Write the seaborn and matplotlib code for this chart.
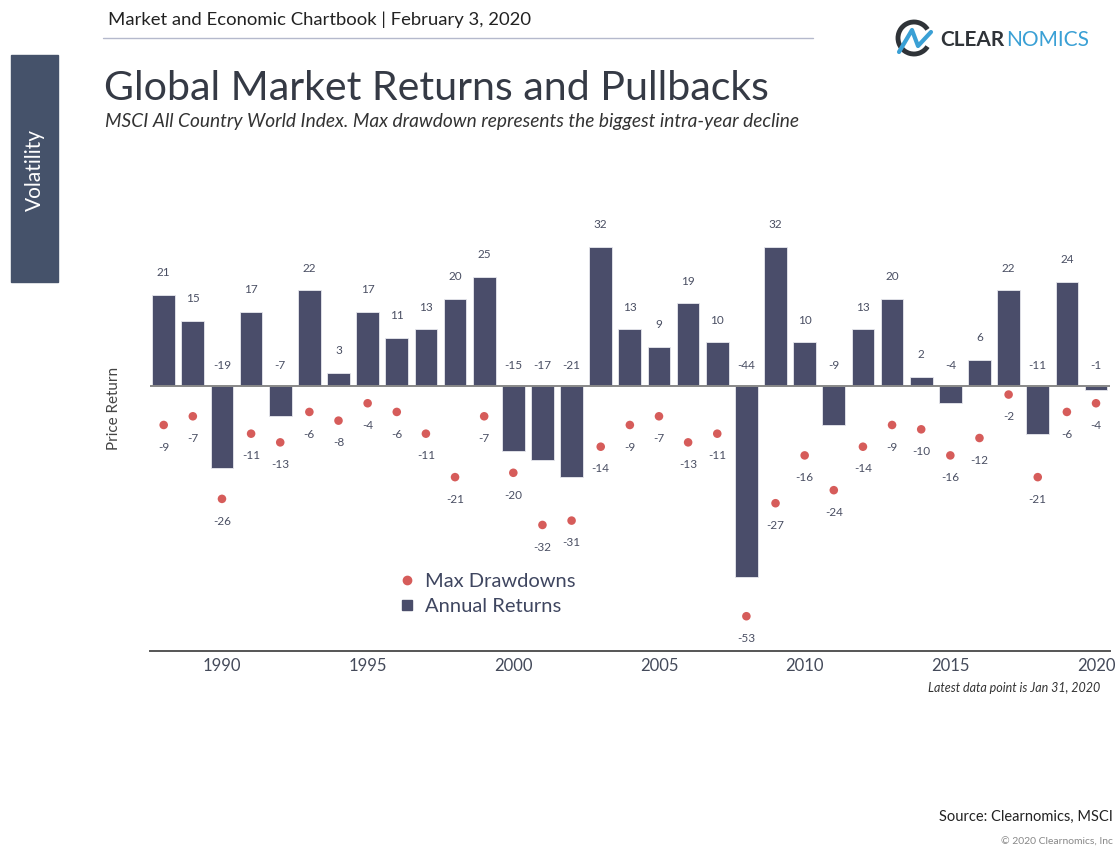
import matplotlib
matplotlib.use("Agg")
import matplotlib.pyplot as plt
import matplotlib.patches as mpatches
from matplotlib.lines import Line2D
import numpy as np
import pandas as pd
import seaborn as sns

years = list(range(1988, 2021))
annual_returns = [21, 15, -19, 17, -7, 22, 3, 17, 11, 13, 20, 25, -15, -17, -21,
                  32, 13, 9, 19, 10, -44, 32, 10, -9, 13, 20, 2, -4, 6, 22, -11, 24, -1]
max_drawdowns = [-9, -7, -26, -11, -13, -6, -8, -4, -6, -11, -21, -7, -20, -32, -31,
                 -14, -9, -7, -13, -11, -53, -27, -16, -24, -14, -9, -10, -16, -12, -2, -21, -6, -4]
tick_years = [1990, 1995, 2000, 2005, 2010, 2015, 2020]

BAR = "#4a4d6a"
DOT = "#d65c5a"
TXT = "#4a4f63"

sns.set_theme(style="white")
plt.rcParams["font.family"] = ["Lato", "DejaVu Sans"]

df = pd.DataFrame({"year": years, "ret": annual_returns, "dd": max_drawdowns})

W, H = 1118, 849
fig = plt.figure(figsize=(W / 100, H / 100), dpi=100)


def fx(x):
    return x / W


def fy(y):
    return 1 - y / H


ax = fig.add_axes([fx(150), fy(651), 960 / W, 439 / H])

sns.barplot(data=df, x="year", y="ret", native_scale=True, width=0.78,
            color=BAR, saturation=1, edgecolor="#e8e8ee", linewidth=0.6, ax=ax)
sns.scatterplot(data=df, x="year", y="dd", color=DOT, s=38, edgecolor="none", ax=ax, zorder=3)

ax.axhline(0, color="#888888", lw=1.4, zorder=2)
ax.set_xlim(1987.53, 2020.48)
ax.set_ylim(-61, 40)

for yr, r, d in zip(years, annual_returns, max_drawdowns):
    if r >= 0:
        ax.annotate(str(r), (yr, r), xytext=(0, 16), textcoords="offset points",
                    ha="center", va="center", fontsize=8.5, color=TXT)
    else:
        ax.annotate(str(r), (yr, 0), xytext=(0, 14.5), textcoords="offset points",
                    ha="center", va="center", fontsize=8.5, color=TXT)
    ax.annotate(str(d), (yr, d), xytext=(0, -16), textcoords="offset points",
                ha="center", va="center", fontsize=8.5, color=TXT)

ax.set_xticks(tick_years)
ax.set_xticklabels([str(t) for t in tick_years], fontsize=12, color="#444a5a")
ax.tick_params(axis="x", length=0, pad=5)
ax.set_yticks([])
ax.set_xlabel("")
ax.set_ylabel("Price Return", fontsize=11, color="#444444")
ax.yaxis.set_label_coords(-0.03, 0.553)
for side in ["left", "right", "top"]:
    ax.spines[side].set_visible(False)
ax.spines["bottom"].set_color("#555555")
ax.spines["bottom"].set_linewidth(1.4)

handles = [
    Line2D([], [], marker="o", ls="none", color=DOT, markersize=6),
    Line2D([], [], marker="s", ls="none", color=BAR, markersize=7),
]
fig.legend(handles, ["Max Drawdowns", "Annual Returns"], loc="upper left",
           bbox_to_anchor=(fx(377), fy(555)), frameon=False, fontsize=14.5,
           labelcolor="#3f4660", handletextpad=0.3, labelspacing=0.4,
           handlelength=1.2)

# header
fig.text(fx(108), fy(20), "Market and Economic Chartbook | February 3, 2020",
         fontsize=13.3, color="#222222", va="center", ha="left")
fig.add_artist(Line2D([fx(103), fx(813)], [fy(38), fy(38)], color="#b5b9cc", lw=1))

fig.text(fx(104), fy(88), "Global Market Returns and Pullbacks",
         fontsize=29.6, color="#353a45", va="center", ha="left")
fig.text(fx(105), fy(122),
         "MSCI All Country World Index. Max drawdown represents the biggest intra-year decline",
         fontsize=13.8, style="italic", color="#333333", va="center", ha="left")

# sidebar
fig.add_artist(mpatches.Rectangle((fx(11), fy(282)), 47 / W, 227 / H,
                                  color="#45526a", transform=fig.transFigure))
fig.text(fx(35), fy(170), "Volatility", rotation=90, fontsize=15, color="white",
         va="center", ha="center")

# logo
fig.add_artist(mpatches.Arc((fx(914), fy(38)), 32 / W, 32 / H, theta1=40, theta2=320,
                            color="#2f3338", lw=3.5, transform=fig.transFigure))
fig.add_artist(Line2D([fx(899), fx(912), fx(918), fx(931)],
                      [fy(52), fy(30), fy(46), fy(32)], color="#3aa0d5", lw=3))
fig.text(fx(940), fy(40), "CLEAR", fontsize=15, color="#2f3338", va="center",
         ha="left", fontweight="bold")
fig.text(fx(1006), fy(40), "NOMICS", fontsize=15, color="#3aa0d5", va="center", ha="left")

fig.text(fx(1100), fy(688), "Latest data point is Jan 31, 2020", fontsize=9,
         style="italic", color="#333333", va="center", ha="right")
fig.text(fx(1113), fy(817), "Source: Clearnomics, MSCI", fontsize=10.5,
         color="#222222", va="center", ha="right")
fig.text(fx(1113), fy(842), "\u00a9 2020 Clearnomics, Inc", fontsize=7.5,
         color="#888888", va="center", ha="right")

fig.savefig("out.png", dpi=100)
